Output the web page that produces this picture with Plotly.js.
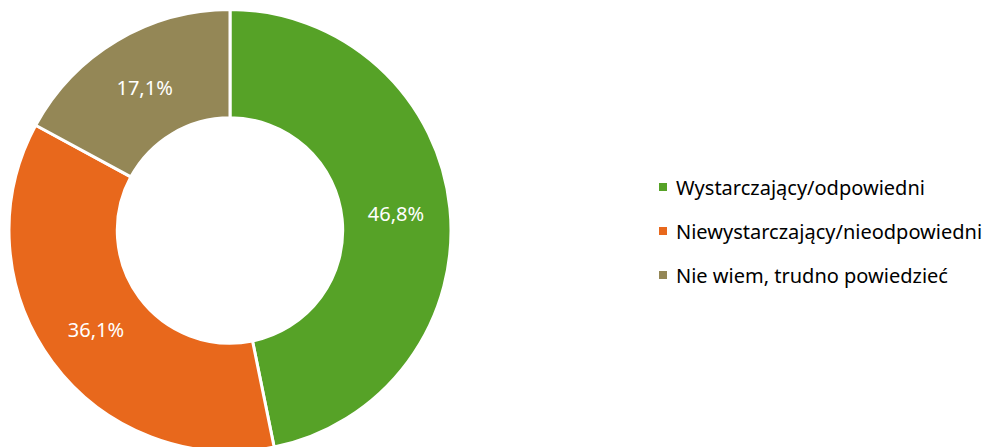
<!DOCTYPE html>
<html>
<head>
<meta charset="utf-8">
<script src="https://cdn.plot.ly/plotly-3.0.1.min.js"></script>
<style>
html,body{margin:0;padding:0;overflow:hidden;background:#fff;width:1001px;height:447px;}
#chart{width:1001px;height:460px;}
</style>
</head>
<body>
<div id="chart"></div>
<script>
const categories = ["Wystarczający/odpowiedni", "Niewystarczający/nieodpowiedni", "Nie wiem, trudno powiedzieć"];
const values = [46.8, 36.1, 17.1];
const valueLabels = ["46,8%", "36,1%", "17,1%"];
const colors = ["#56A227", "#E8681C", "#948756"];

const W = 1001, H = 460;
const cx = 230, cy = 230.5, R = 221;

const trace = {
  type: "pie",
  labels: categories,
  values: values,
  text: valueLabels,
  textinfo: "text",
  textposition: "inside",
  insidetextorientation: "horizontal",
  hole: 0.51,
  sort: false,
  direction: "clockwise",
  rotation: 0,
  marker: {colors: colors, line: {color: "#FFFFFF", width: 3}},
  textfont: {family: "Noto Sans, sans-serif", size: 20, color: "#FFFFFF"},
  domain: {x: [(cx - R) / W, (cx + R) / W], y: [(H - cy - R) / H, (H - cy + R) / H]},
  showlegend: false,
  hoverinfo: "label+text"
};

const shapes = [];
const annotations = [];
categories.forEach((c, i) => {
  const yc = 187 + 44 * i;
  shapes.push({type: "rect", xref: "paper", yref: "paper",
    x0: 659 / W, x1: 667 / W, y0: (H - yc - 4) / H, y1: (H - yc + 4) / H,
    fillcolor: colors[i], line: {width: 0}});
  annotations.push({xref: "paper", yref: "paper", x: 674 / W, y: (H - yc) / H,
    xanchor: "left", yanchor: "middle", showarrow: false, text: c,
    font: {family: "Noto Sans, sans-serif", size: 20, color: "#000000"}});
});

Plotly.newPlot("chart", [trace], {
  width: W, height: H,
  margin: {l: 0, r: 0, t: 0, b: 0},
  paper_bgcolor: "#FFFFFF",
  shapes: shapes,
  annotations: annotations
}, {displayModeBar: false, staticPlot: true});
</script>
</body>
</html>
